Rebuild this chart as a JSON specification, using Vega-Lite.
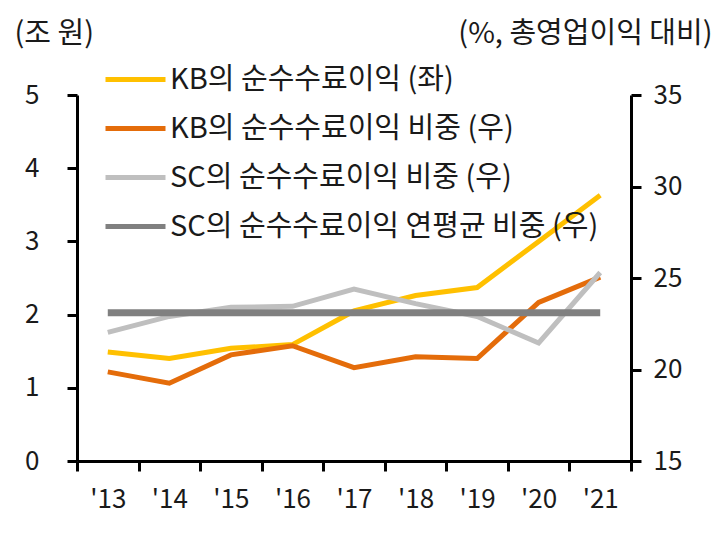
{
  "$schema": "https://vega.github.io/schema/vega-lite/v6.json",
  "width": 554,
  "height": 366,
  "autosize": {"type": "none"},
  "padding": {"left": 77, "top": 95, "right": 95, "bottom": 74},
  "background": "white",
  "data": {
    "values": [
      {"year": "'13", "series": "KB의 순수수료이익 (좌)", "value": 1.49},
      {"year": "'14", "series": "KB의 순수수료이익 (좌)", "value": 1.40},
      {"year": "'15", "series": "KB의 순수수료이익 (좌)", "value": 1.54},
      {"year": "'16", "series": "KB의 순수수료이익 (좌)", "value": 1.59},
      {"year": "'17", "series": "KB의 순수수료이익 (좌)", "value": 2.05},
      {"year": "'18", "series": "KB의 순수수료이익 (좌)", "value": 2.26},
      {"year": "'19", "series": "KB의 순수수료이익 (좌)", "value": 2.37},
      {"year": "'20", "series": "KB의 순수수료이익 (좌)", "value": 3.00},
      {"year": "'21", "series": "KB의 순수수료이익 (좌)", "value": 3.63},
      {"year": "'13", "series": "KB의 순수수료이익 비중 (우)", "value": 19.87},
      {"year": "'14", "series": "KB의 순수수료이익 비중 (우)", "value": 19.25},
      {"year": "'15", "series": "KB의 순수수료이익 비중 (우)", "value": 20.8},
      {"year": "'16", "series": "KB의 순수수료이익 비중 (우)", "value": 21.3},
      {"year": "'17", "series": "KB의 순수수료이익 비중 (우)", "value": 20.1},
      {"year": "'18", "series": "KB의 순수수료이익 비중 (우)", "value": 20.7},
      {"year": "'19", "series": "KB의 순수수료이익 비중 (우)", "value": 20.6},
      {"year": "'20", "series": "KB의 순수수료이익 비중 (우)", "value": 23.67},
      {"year": "'21", "series": "KB의 순수수료이익 비중 (우)", "value": 25.05},
      {"year": "'13", "series": "SC의 순수수료이익 비중 (우)", "value": 22.03},
      {"year": "'14", "series": "SC의 순수수료이익 비중 (우)", "value": 22.9},
      {"year": "'15", "series": "SC의 순수수료이익 비중 (우)", "value": 23.4},
      {"year": "'16", "series": "SC의 순수수료이익 비중 (우)", "value": 23.45},
      {"year": "'17", "series": "SC의 순수수료이익 비중 (우)", "value": 24.4},
      {"year": "'18", "series": "SC의 순수수료이익 비중 (우)", "value": 23.6},
      {"year": "'19", "series": "SC의 순수수료이익 비중 (우)", "value": 22.9},
      {"year": "'20", "series": "SC의 순수수료이익 비중 (우)", "value": 21.45},
      {"year": "'21", "series": "SC의 순수수료이익 비중 (우)", "value": 25.3},
      {"year": "'13", "series": "SC의 순수수료이익 연평균 비중 (우)", "value": 23.1},
      {"year": "'14", "series": "SC의 순수수료이익 연평균 비중 (우)", "value": 23.1},
      {"year": "'15", "series": "SC의 순수수료이익 연평균 비중 (우)", "value": 23.1},
      {"year": "'16", "series": "SC의 순수수료이익 연평균 비중 (우)", "value": 23.1},
      {"year": "'17", "series": "SC의 순수수료이익 연평균 비중 (우)", "value": 23.1},
      {"year": "'18", "series": "SC의 순수수료이익 연평균 비중 (우)", "value": 23.1},
      {"year": "'19", "series": "SC의 순수수료이익 연평균 비중 (우)", "value": 23.1},
      {"year": "'20", "series": "SC의 순수수료이익 연평균 비중 (우)", "value": 23.1},
      {"year": "'21", "series": "SC의 순수수료이익 연평균 비중 (우)", "value": 23.1}
    ]
  },
  "encoding": {
    "x": {
      "field": "year",
      "type": "ordinal",
      "sort": null,
      "scale": {"paddingInner": 0, "paddingOuter": 0},
      "axis": {
        "title": null,
        "labelAngle": 0,
        "tickBand": "extent",
        "labelPadding": 15
      }
    },
    "color": {
      "field": "series",
      "type": "nominal",
      "scale": {
        "domain": [
          "KB의 순수수료이익 (좌)",
          "KB의 순수수료이익 비중 (우)",
          "SC의 순수수료이익 비중 (우)",
          "SC의 순수수료이익 연평균 비중 (우)"
        ],
        "range": ["#FFC000", "#E46C0A", "#BFBFBF", "#808080"]
      },
      "legend": {
        "title": null,
        "orient": "none",
        "legendX": 26,
        "legendY": -48,
        "padding": 0,
        "symbolType": "stroke",
        "symbolSize": 3600,
        "symbolStrokeWidth": 5,
        "labelFontSize": 29,
        "labelColor": "#1a1a1a",
        "labelOffset": 2,
        "rowPadding": 1,
        "labelLimit": 600
      }
    }
  },
  "layer": [
    {
      "transform": [{"filter": "datum.series === 'KB의 순수수료이익 (좌)'"}],
      "mark": {"type": "line", "strokeWidth": 5},
      "encoding": {
        "y": {
          "field": "value",
          "type": "quantitative",
          "scale": {"domain": [0, 5], "nice": false},
          "axis": {
            "orient": "left",
            "values": [0, 1, 2, 3, 4, 5],
            "title": "(조 원)",
            "titleAngle": 0,
            "titleAlign": "left",
            "titleBaseline": "middle",
            "titleX": -63,
            "titleY": -62,
            "labelPadding": 28
          }
        }
      }
    },
    {
      "layer": [
        {
          "transform": [{"filter": "datum.series !== 'KB의 순수수료이익 (좌)' && datum.series !== 'SC의 순수수료이익 연평균 비중 (우)'"}],
          "mark": {"type": "line", "strokeWidth": 5},
          "encoding": {
            "y": {
              "field": "value",
              "type": "quantitative",
              "scale": {"domain": [15, 35], "nice": false},
              "axis": {
                "orient": "right",
                "values": [15, 20, 25, 30, 35],
                "title": "(%, 총영업이익 대비)",
                "titleAngle": 0,
                "titleAlign": "right",
                "titleBaseline": "middle",
                "titleX": 81,
                "titleY": -62,
                "labelPadding": 12
              }
            }
          }
        },
        {
          "transform": [{"filter": "datum.series === 'SC의 순수수료이익 연평균 비중 (우)'"}],
          "mark": {"type": "line", "strokeWidth": 7},
          "encoding": {
            "y": {
              "field": "value",
              "type": "quantitative",
              "scale": {"domain": [15, 35], "nice": false},
              "axis": {
                "orient": "right",
                "values": [15, 20, 25, 30, 35],
                "title": "(%, 총영업이익 대비)",
                "titleAngle": 0,
                "titleAlign": "right",
                "titleBaseline": "middle",
                "titleX": 81,
                "titleY": -62,
                "labelPadding": 12
              }
            }
          }
        }
      ]
    }
  ],
  "resolve": {"scale": {"y": "independent"}, "axis": {"y": "independent"}},
  "config": {
    "view": {"stroke": null},
    "font": "Noto Sans CJK KR",
    "axis": {
      "grid": false,
      "domainColor": "black",
      "domainWidth": 3,
      "tickColor": "black",
      "tickWidth": 3,
      "tickSize": 10,
      "labelFontSize": 26,
      "labelColor": "#1a1a1a",
      "labelFont": "Noto Sans CJK KR",
      "titleFontSize": 29,
      "titleFontWeight": "normal",
      "titleColor": "#1a1a1a",
      "titleFont": "Noto Sans CJK KR"
    },
    "legend": {"labelFont": "Noto Sans CJK KR"}
  }
}
